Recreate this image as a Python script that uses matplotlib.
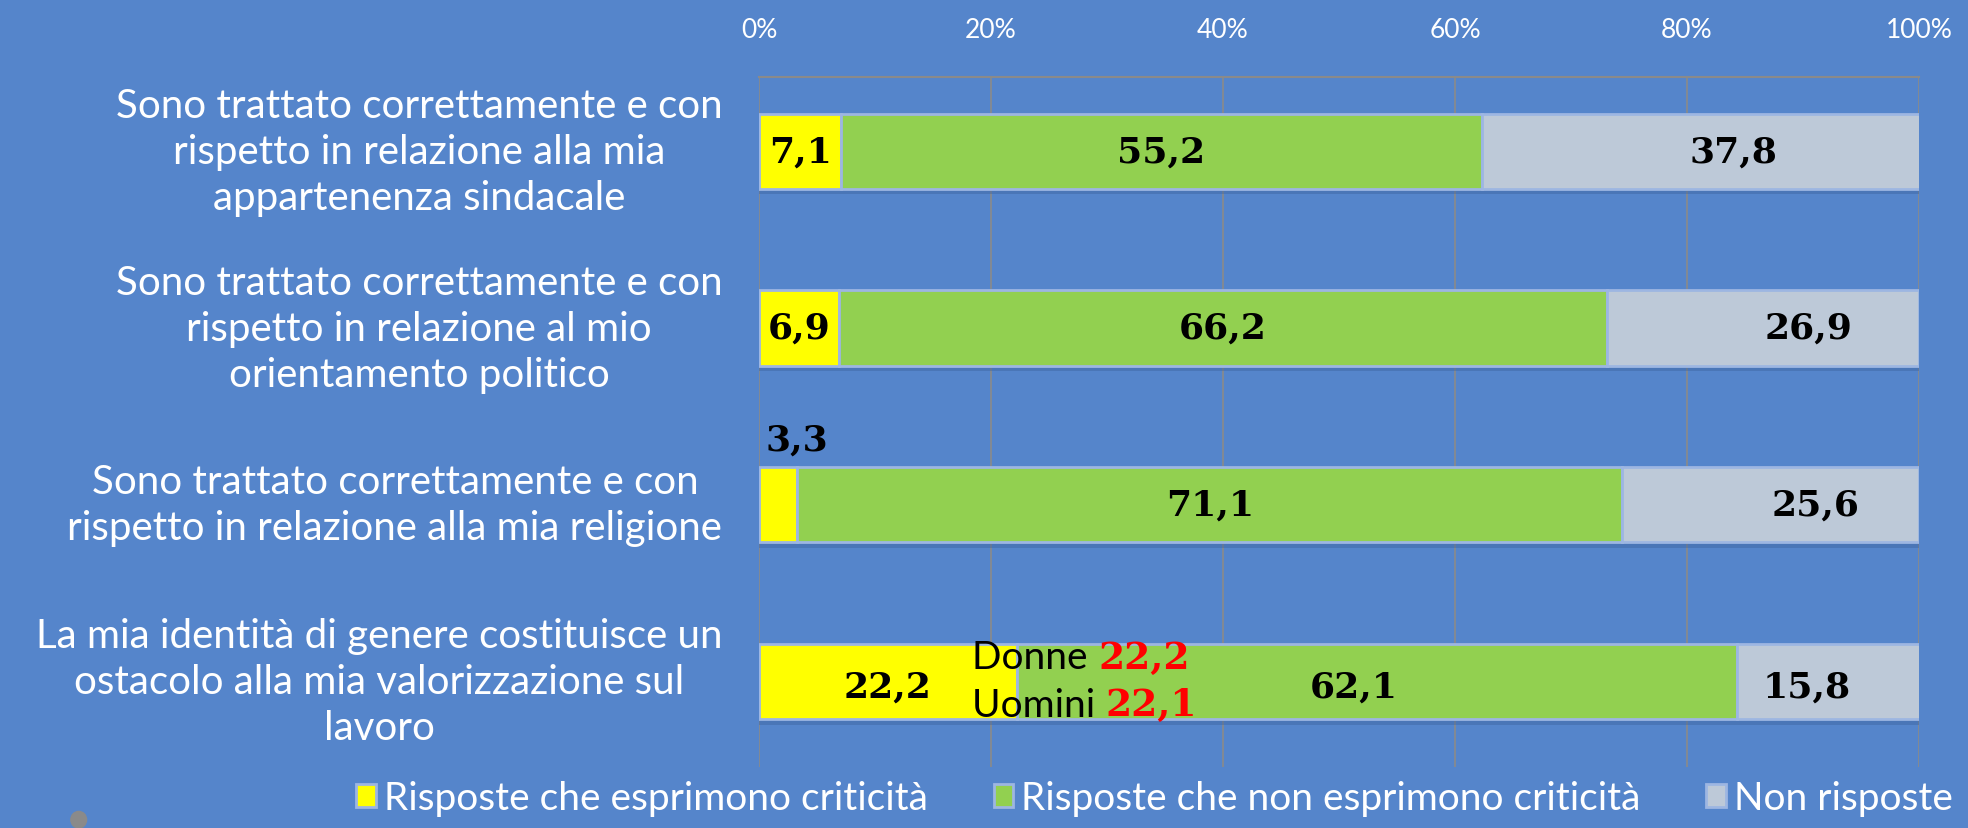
import matplotlib.pyplot as plt
from matplotlib.patches import Patch, Ellipse
from matplotlib.transforms import blended_transform_factory, offset_copy
import numpy as np

# Data
categories = [
    "Sono trattato correttamente e con\nrispetto in relazione alla mia\nappartenenza sindacale",
    "Sono trattato correttamente e con\nrispetto in relazione al mio\norientamento politico",
    "Sono trattato correttamente e con\nrispetto in relazione alla mia religione",
    "La mia identità di genere costituisce un\nostacolo alla mia valorizzazione sul\nlavoro",
]
critical = [7.1, 6.9, 3.3, 22.2]
not_critical = [55.2, 66.2, 71.1, 62.1]
no_answer = [37.8, 26.9, 25.6, 15.8]
series_names = ["Risposte che esprimono criticità",
                "Risposte che non esprimono criticità",
                "Non risposte"]
ticks = [0, 20, 40, 60, 80, 100]
gender_labels = ["Donne ", "Uomini "]
gender_values = ["22,2", "22,1"]

bg = "#5585cb"
colors = ["#ffff00", "#92d050", "#bdc9d8"]
edge = "#9db6e2"
sans = ["Lato", "DejaVu Sans"]
serif = ["DejaVu Serif"]

fig = plt.figure(figsize=(19.68, 8.29), dpi=100, facecolor=bg)
ax = fig.add_axes([0.3857, 0.074, 0.5894, 0.832])
ax.set_facecolor(bg)

y = np.arange(len(categories))
h = 0.425
totals = np.array(critical) + np.array(not_critical) + np.array(no_answer)
# soft shadow under the bars
ax.barh(y + 0.03, totals, height=h, color="#3d64a0", alpha=0.45, linewidth=0, zorder=2)
left = np.zeros(len(categories))
for vals, c, name in zip([critical, not_critical, no_answer], colors, series_names):
    ax.barh(y, vals, left=left, height=h, color=c, edgecolor=edge, linewidth=2, label=name, zorder=3)
    left = left + np.array(vals)

ax.set_xlim(0, 100)
ax.set_ylim(3.48, -0.42)
ax.xaxis.tick_top()
ax.set_xticks(ticks)
ax.set_xticklabels([f"{t}%" for t in ticks], color="white", fontsize=19, family=sans)
ax.tick_params(axis="x", length=0, pad=25)
ax.set_yticks([])
ax.grid(axis="x", color="#8a8a8a", linewidth=1.2, zorder=0)
for s in ["left", "right", "bottom"]:
    ax.spines[s].set_visible(False)
ax.spines["top"].set_color("#8a8a8a")
ax.spines["top"].set_linewidth(1.5)

# category labels
tr = blended_transform_factory(fig.transFigure, ax.transData)
for i, cat in enumerate(categories):
    fig.text(0.367, i, cat, transform=tr, ha="right", va="center", multialignment="center",
             color="white", fontsize=29, family=sans, linespacing=1.3)

# value labels
fmt = lambda v: f"{v:.1f}".replace(".", ",")
lbl = dict(fontsize=26, fontweight="bold", family=serif, color="black", zorder=5)
for i in range(len(categories)):
    c, n, r = critical[i], not_critical[i], no_answer[i]
    dy = 0.03 if i == 3 else 0
    if c < 5:
        ax.text(c / 2 + 1.6, i - 0.37, fmt(c), ha="center", va="center", **lbl)
    else:
        ax.text(c / 2, i + dy, fmt(c), ha="center", va="center", **lbl)
    ax.text(c + n / 2 - (2 if i == 3 else 0), i + dy, fmt(n), ha="center", va="center", **lbl)
    shift = [2.8, 3.9, 3.9, -1.9][i]
    ax.text(c + n + r / 2 + shift, i + dy, fmt(r), ha="center", va="center", **lbl)

# Donne / Uomini annotation
fig.canvas.draw()
renderer = fig.canvas.get_renderer()
for k, (g, v) in enumerate(zip(gender_labels, gender_values)):
    yy = 3 - 0.14 + 0.27 * k
    t = ax.text(18.4, yy, g, ha="left", va="center", fontsize=28, family=sans, color="black", zorder=6)
    w = t.get_window_extent(renderer).width
    ax.text(18.4, yy, v, ha="left", va="center", fontsize=27, fontweight="bold", family=serif, color="red",
            zorder=6, transform=offset_copy(ax.transData, fig=fig, x=w, y=0, units="dots"))

# legend
handles = [Patch(facecolor=c, edgecolor=edge, linewidth=2) for c in colors]
leg = fig.legend(handles, series_names, loc="lower right", bbox_to_anchor=(0.998, 0.0), ncol=3,
                 frameon=False, prop={"family": sans, "size": 28}, handlelength=0.5, handleheight=0.5,
                 handletextpad=0.2, columnspacing=1.7, borderaxespad=0, borderpad=0.3)
for t in leg.get_texts():
    t.set_color("white")

# small grey marker bottom-left
fig.patches.append(Ellipse((0.04, 0.01), 0.008, 0.02, transform=fig.transFigure, color="#8a8a8a"))

fig.savefig("out.png", dpi=100, facecolor=bg)
